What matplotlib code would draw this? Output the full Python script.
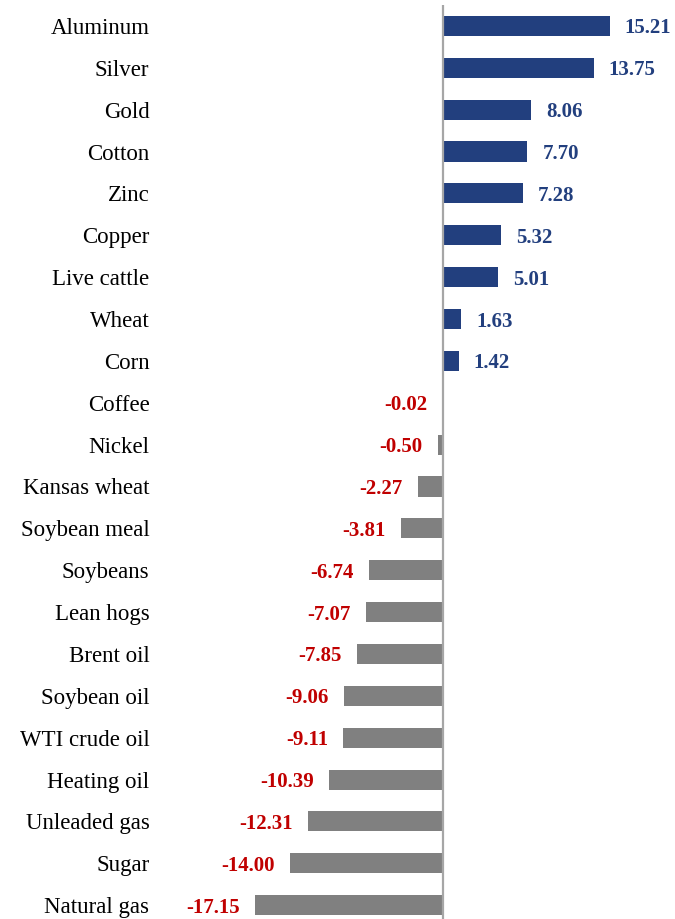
import numpy as np
import matplotlib.pyplot as plt

commodities = ['Aluminum', 'Silver', 'Gold', 'Cotton', 'Zinc', 'Copper', 'Live cattle',
               'Wheat', 'Corn', 'Coffee', 'Nickel', 'Kansas wheat', 'Soybean meal',
               'Soybeans', 'Lean hogs', 'Brent oil', 'Soybean oil', 'WTI crude oil',
               'Heating oil', 'Unleaded gas', 'Sugar', 'Natural gas']
changes = [15.21, 13.75, 8.06, 7.70, 7.28, 5.32, 5.01, 1.63, 1.42, -0.02, -0.50,
           -2.27, -3.81, -6.74, -7.07, -7.85, -9.06, -9.11, -10.39, -12.31, -14.00, -17.15]

plt.rcParams['font.family'] = ['Liberation Serif', 'DejaVu Serif']

fig = plt.figure(figsize=(6.75, 9.19), dpi=100)
ax = fig.add_axes([155 / 675, 0, 1 - 155 / 675, 1 - 5 / 919])

y = np.arange(len(commodities))
vals = np.array(changes)
colors = np.where(vals >= 0, '#223F7E', '#808080')
ax.barh(y, vals, height=0.48, color=colors, zorder=2)
ax.axvline(0, color='#a6a6a6', lw=1.6, zorder=3)

for yi, v in zip(y, vals):
    if v >= 0:
        ax.annotate(f'{v:.2f}', (v, yi), xytext=(11, 0), textcoords='offset points',
                    ha='left', va='center_baseline', fontsize=15, fontweight='bold', color='#223F7E')
    else:
        ax.annotate(f'{v:.2f}', (v, yi), xytext=(-11, 0), textcoords='offset points',
                    ha='right', va='center_baseline', fontsize=15, fontweight='bold', color='#C00000')

ax.set_yticks(y)
ax.set_yticklabels(commodities, fontsize=16.5)
ax.tick_params(axis='y', length=0, pad=4)
ax.set_xticks([])
ax.set_xlim((155 - 443) / 10.95, (675 - 443) / 10.95)
ax.set_ylim(21.33, -0.5)
for s in ax.spines.values():
    s.set_visible(False)

plt.savefig('out.png', dpi=100)
